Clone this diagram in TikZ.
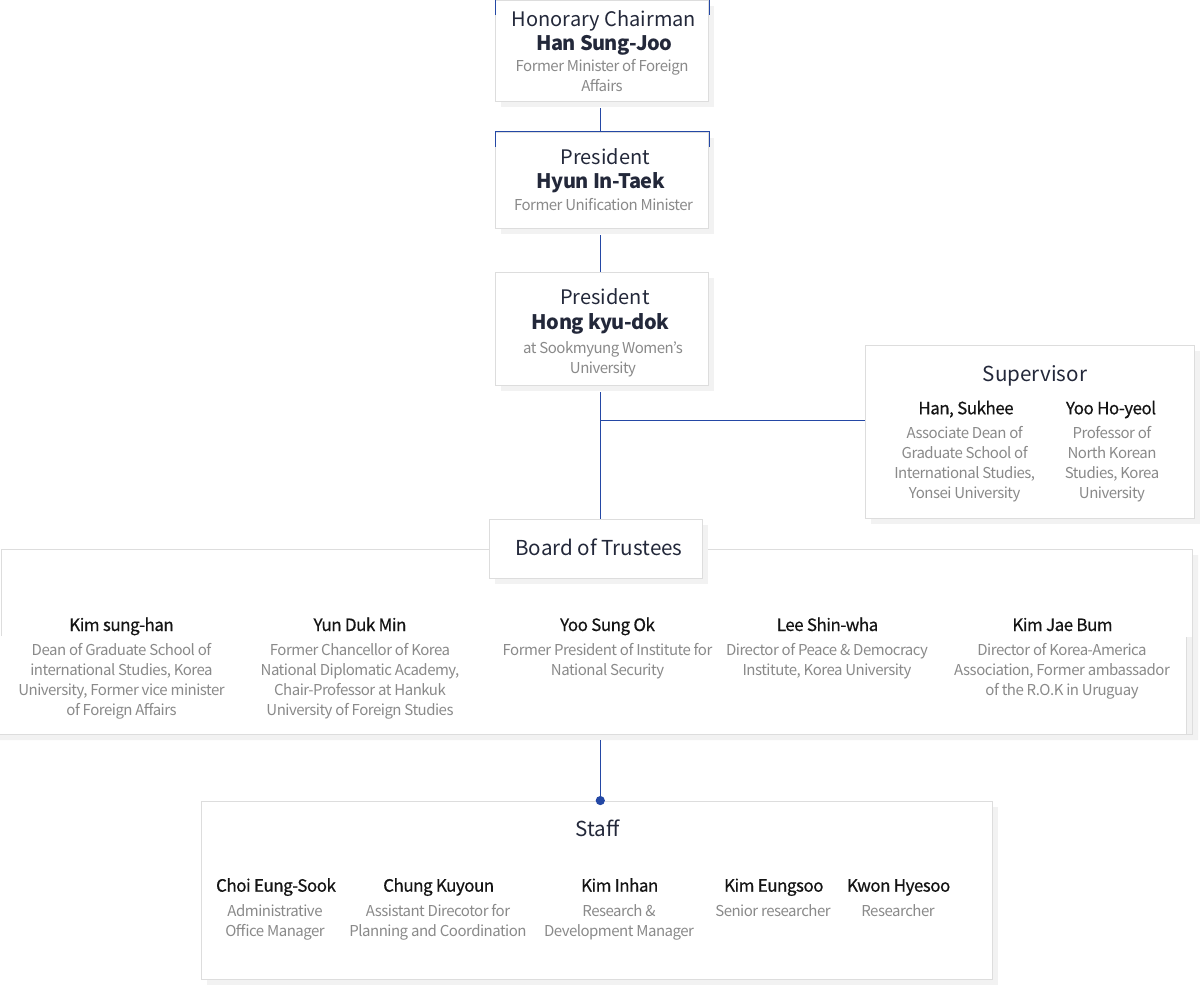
\documentclass[tikz,border=0pt]{standalone}
\usepackage{fontspec}
\setmainfont{Noto Sans CJK KR}
\newfontfamily\descfont{Noto Sans CJK KR}[LetterSpace=-3.3]
\newfontfamily\medfont{Noto Sans CJK KR}[FakeBold=0.5, LetterSpace=-3]
\newfontfamily\bnfont{Noto Sans CJK KR}[LetterSpace=-2.5]
\usetikzlibrary{calc,shadows}
\definecolor{navy}{HTML}{23283A}
\definecolor{namec}{HTML}{141414}
\definecolor{descc}{HTML}{8A8A8A}
\definecolor{lineb}{HTML}{2448A5}
\definecolor{brd}{HTML}{DDDDDD}
\definecolor{shd}{HTML}{F2F2F2}
\tikzset{
  box/.style={draw=brd, line width=1pt, fill=white, inner sep=0pt,
    drop shadow={shadow xshift=5.5pt, shadow yshift=-5.5pt, fill=shd, opacity=1}},
  ttl/.style={font=\fontsize{20}{24}\selectfont, text=navy, inner sep=0pt, anchor=base},
  bigttl/.style={font=\fontsize{20.6}{24}\selectfont, text=navy, inner sep=0pt, anchor=base},
  bname/.style={font=\bnfont\bfseries\fontsize{20}{24}\selectfont, text=navy, inner sep=0pt, anchor=base},
  mname/.style={font=\medfont\fontsize{17}{20}\selectfont, text=namec, inner sep=0pt, anchor=base},
  desc/.style={font=\descfont\fontsize{15}{20}\selectfont, text=descc, inner sep=0pt, anchor=base},
  conn/.style={draw=lineb, line width=1pt},
  brdline/.style={draw=brd, line width=1pt},
  bluecap/.style={draw=lineb, line width=1pt}
}
\begin{document}
\begin{tikzpicture}[x=1pt,y=-1pt]
\useasboundingbox (0,0) rectangle (1200,986);
\coordinate (cx) at (600.3,0);

% ---------- Board of Trustees big frame ----------
\fill[shd] (0,734.5) -- (1192,734.5) -- (1192,555) -- (1198,555) -- (1198,740) -- (0,740) -- cycle;
\fill[white] (1.5,549.5) rectangle (1192,734.5);
\fill[shd] (1187,637) rectangle (1191.5,734);
\draw[brdline] (1.5,636) -- (1.5,549.5) -- (1192,549.5) -- (1192,734.5) -- (0,734.5);
\draw[brdline] (1186.5,637) -- (1186.5,734.5);

% ---------- boxes ----------
\node[box, minimum width=213pt, minimum height=101.5pt] (hon) at (602,51.2) {};
\node[box, minimum width=213pt, minimum height=96.4pt] (pres1) at (602,180.5) {};
\node[box, minimum width=213pt, minimum height=113pt] (pres2) at (602,328.8) {};
\node[box, minimum width=329pt, minimum height=173pt] (sup) at (1029.8,431.8) {};
\node[box, minimum width=213pt, minimum height=59pt] (boardt) at (595.8,548.8) {};
\node[box, minimum width=790.6pt, minimum height=178.3pt] (staff) at (597,890.2) {};

% blue caps
\draw[bluecap] ($(hon.north west)+(0,15)$) -- (hon.north west) -- (hon.north east) -- ($(hon.north east)+(0,15)$);
\draw[bluecap] ($(pres1.north west)+(0,15)$) -- (pres1.north west) -- (pres1.north east) -- ($(pres1.north east)+(0,15)$);

% ---------- connectors ----------
\draw[conn] ($(hon.south -| cx)+(0,6)$) -- (pres1.north -| cx);
\draw[conn] ($(pres1.south -| cx)+(0,6)$) -- (pres2.north -| cx);
\draw[conn] ($(pres2.south -| cx)+(0,6.5)$) -- (boardt.north -| cx);
\coordinate (junc) at (600.3,420.3);
\draw[conn] (junc) -- (junc -| sup.west);
\coordinate (bbot) at (600.3,740);
\draw[conn] (bbot) -- (staff.north -| bbot);
\fill[lineb] (staff.north -| bbot) circle (4.6pt);

% ---------- Honorary chairman ----------
\node[ttl] (honT) at (604,26.5) {Honorary Chairman};
\node[bname] (honN) at (604.3,50.5) {Han Sung-Joo};
\node[desc] (honD1) at (602,71.5) {Former Minister of Foreign};
\node[desc] (honD2) at (602,91) {Affairs};

% ---------- President Hyun ----------
\node[ttl] (p1T) at (605.3,164) {President};
\node[bname] (p1N) at (600.8,188) {Hyun In-Taek};
\node[desc] (p1D) at (603.5,210) {Former Unification Minister};

% ---------- President Hong ----------
\node[ttl] (p2T) at (605,304.5) {President};
\node[bname] (p2N) at (600.5,329) {Hong kyu-dok};
\node[desc] (p2D1) at (603,353) {at Sookmyung Women’s};
\node[desc] (p2D2) at (603,373) {University};

% ---------- Supervisor ----------
\node[bigttl] (supT) at (1035,381) {Supervisor};
\node[mname] (supN1) at (966,414.3) {Han, Sukhee};
\node[mname] (supN2) at (1111,414.3) {Yoo Ho-yeol};
\foreach \t [count=\i] in {{Associate Dean of},{Graduate School of},{International Studies,},{Yonsei University}}
  \node[desc] (supA\i) at (964.7,438.3+20*\i-20) {\t};
\foreach \t [count=\i] in {{Professor of},{North Korean},{Studies, Korea},{University}}
  \node[desc] (supB\i) at (1112,438.3+20*\i-20) {\t};

% ---------- Board of Trustees ----------
\node[bigttl] (boardT) at (599,555) {Board of Trustees};
\node[mname] (bN1) at (121.5,631) {Kim sung-han};
\node[mname] (bN2) at (360,631) {Yun Duk Min};
\node[mname] (bN3) at (607.5,631) {Yoo Sung Ok};
\node[mname] (bN4) at (827.5,631) {Lee Shin-wha};
\node[mname] (bN5) at (1062.5,631) {Kim Jae Bum};
\foreach \t [count=\i] in {{Dean of Graduate School of},{international Studies, Korea},{University, Former vice minister},{of Foreign Affairs}}
  \node[desc] (bA\i) at (121.5,655.7+20*\i-20) {\t};
\foreach \t [count=\i] in {{Former Chancellor of Korea},{National Diplomatic Academy,},{Chair-Professor at Hankuk},{University of Foreign Studies}}
  \node[desc] (bB\i) at (360,655.7+20*\i-20) {\t};
\foreach \t [count=\i] in {{Former President of Institute for},{National Security}}
  \node[desc] (bC\i) at (607.5,655.7+20*\i-20) {\t};
\foreach \t [count=\i] in {{Director of Peace \& Democracy},{Institute, Korea University}}
  \node[desc] (bD\i) at (827,655.7+20*\i-20) {\t};
\foreach \t [count=\i] in {{Director of Korea-America},{Association, Former ambassador},{of the R.O.K in Uruguay}}
  \node[desc] (bE\i) at (1062,655.7+20*\i-20) {\t};

% ---------- Staff ----------
\node[bigttl] (staffT) at (597.5,836.7) {Staff};
\node[mname] (sN1) at (276,891.7) {Choi Eung-Sook};
\node[mname] (sN2) at (438.7,891.7) {Chung Kuyoun};
\node[mname] (sN3) at (619.7,891.7) {Kim Inhan};
\node[mname] (sN4) at (773.8,891.7) {Kim Eungsoo};
\node[mname] (sN5) at (898.7,891.7) {Kwon Hyesoo};
\node[desc] (sA1) at (275,916) {Administrative};
\node[desc] (sA2) at (275,936) {Office Manager};
\node[desc] (sB1) at (438,916) {Assistant Direcotor for};
\node[desc] (sB2) at (438,936) {Planning and Coordination};
\node[desc] (sC1) at (619,916) {Research \&};
\node[desc] (sC2) at (619,936) {Development Manager};
\node[desc] (sD1) at (773,916) {Senior researcher};
\node[desc] (sE1) at (898,916) {Researcher};
\end{tikzpicture}
\end{document}
